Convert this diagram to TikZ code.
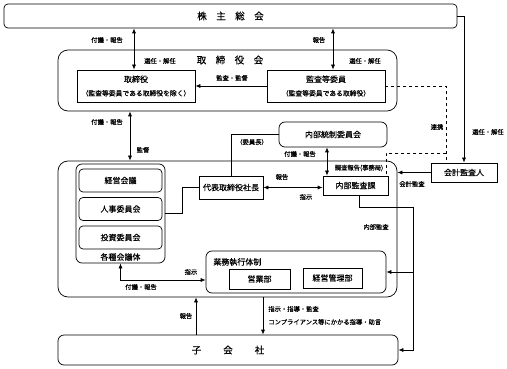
\documentclass[tikz,border=0pt]{standalone}
\usepackage{fontspec}
\setmainfont{Noto Sans CJK JP}[FakeBold=0.4]
\usetikzlibrary{arrows.meta}
\newcommand\smtext{\fontsize{6.8}{8}\selectfont}
\begin{document}
\begin{tikzpicture}[x=1pt,y=-1pt,line width=.7pt,>={Latex[length=5pt,width=4pt]},
    every node/.style={font=\fontsize{8}{9.6}\selectfont,inner sep=0pt},
    box/.style 2 args={draw,rectangle,minimum width=#1,minimum height=#2},
    ttl/.style={font=\fontsize{9.5}{11}\selectfont},
    lbl/.style={font=\fontsize{6.3}{7.5}\selectfont}]
    \useasboundingbox (0,0) rectangle (507,369);
    \node[box={453pt}{24pt},rounded corners=4pt,ttl] (gm) at (230.5,16) {株\quad 主\quad 総\quad 会};
    \node[box={339pt}{61pt},rounded corners=10pt] (board) at (227.5,80.5) {};
    \node[ttl] (boardt) at (230,60) {取\quad 締\quad 役\quad 会};
    \node[box={118pt}{32pt},align=center] (dir) at (136,86) {取締役\\[4pt]{\smtext （監査等委員である取締役を除く）}};
    \node[box={118pt}{32pt},align=center] (audc) at (326,86) {監査等委員\\[4pt]{\smtext （監査等委員である取締役）}};
    \node[box={339pt}{136pt},rounded corners=10pt] (exec) at (227.5,229) {};
    \node[box={89pt}{99pt},rounded corners=6pt] (conf) at (120.5,213.5) {};
    \foreach \y/\t [count=\i] in {180.5/経営会議,209/人事委員会,237.5/投資委員会}
        \node[box={83pt}{23pt},rounded corners=4pt] (c\i) at (120.5,\y) {\t};
    \node (confl) at (120.5,257) {各種会議体};
    \node[box={64pt}{23pt}] (ceo) at (231,187.5) {代表取締役社長};
    \node[box={108pt}{25pt},rounded corners=6pt] (icc) at (333,134.5) {内部統制委員会};
    \node[box={65pt}{19pt}] (iad) at (355.5,185.5) {内部監査課};
    \node[box={66pt}{19pt}] (ext) at (464,172.5) {会計監査人};
    \node[box={180pt}{42pt},rounded corners=6pt] (ops) at (296,272) {};
    \node[anchor=west] (opsl) at (213,262) {業務執行体制};
    \node[box={61pt}{20pt}] (sales) at (259.5,279) {営業部};
    \node[box={59pt}{20pt}] (mgmt) at (332.5,278) {経営管理部};
    \node[box={340pt}{30pt},rounded corners=6pt,ttl] (sub) at (228,350) {子\hspace{22pt}会\hspace{22pt}社};
    \draw[<->] ([xshift=-96.5pt]gm.south) -- ([xshift=-2pt]dir.north);
    \draw[<->] ([xshift=102.5pt]gm.south) -- ([xshift=7pt]audc.north);
    \draw[->] (audc.west) -- (dir.east);
    \draw[->] (gm.east) -| (ext.north);
    \draw[dashed] (audc.east) -| ([xshift=-18pt]ext.north);
    \coordinate (lk) at (446,153);
    \draw[dashed] (lk) -| ([xshift=30.5pt]iad.north);
    \draw[<->] ([xshift=-97.5pt]board.south) -- ([xshift=-97.5pt]exec.north);
    \draw (conf.east) -- ++(17,0) |- (ceo.west);
    \draw (icc.west) -| (ceo.north);
    \draw[<->] ([xshift=-6pt]icc.south) -- ([xshift=-28.5pt]iad.north);
    \draw[<->] (ceo.east) -- (ceo.east -| iad.west);
    \draw[->] (ext.west) -- (ext.west -| exec.east);
    \coordinate (ia) at (413,207);
    \draw ([xshift=3.5pt]iad.south) |- (ia);
    \draw[->] (ia) |- (ops.east);
    \draw[->] (ia) |- (sub.east);
    \draw[<->] (conf.south) |- ([yshift=-8pt]ops.west);
    \draw[->] ([xshift=-32pt]sub.north) -- ([xshift=-31.5pt]exec.south);
    \draw[->] ([xshift=35.5pt]exec.south) -- ([xshift=35pt]sub.north);
    \node[lbl] (l1) at (107,40) {付議・報告};
    \node[lbl] (l2) at (160,61) {選任・解任};
    \node[lbl] (l3) at (319,40) {報告};
    \node[lbl] (l4) at (365,61) {選任・解任};
    \node[lbl] (l5) at (232,78) {監査・監督};
    \node[lbl] (l6) at (107,122) {付議・報告};
    \node[lbl] (l7) at (143,150) {監督};
    \node[lbl] (l8) at (252,142) {（委員長）};
    \node[lbl] (l9) at (300,154) {付議・報告};
    \node[lbl] (l10) at (359,168) {調査報告(事務局)};
    \node[lbl] (l11) at (282,177) {報告};
    \node[lbl] (l12) at (306,197) {指示};
    \node[lbl] (l13) at (437,127) {連携};
    \node[lbl] (l14) at (488,132) {選任・解任};
    \node[lbl] (l15) at (412,184) {会計監査};
    \node[lbl] (l16) at (376,227) {内部監査};
    \node[lbl] (l17) at (191,272) {指示};
    \node[lbl] (l18) at (141,287) {付議・報告};
    \node[lbl] (l19) at (186,316) {報告};
    \node[lbl,anchor=west] (l20) at (268,309) {指示・指導・監査};
    \node[lbl,anchor=west] (l21) at (268,322) {コンプライアンス等にかかる指導・助言};
\end{tikzpicture}
\end{document}
